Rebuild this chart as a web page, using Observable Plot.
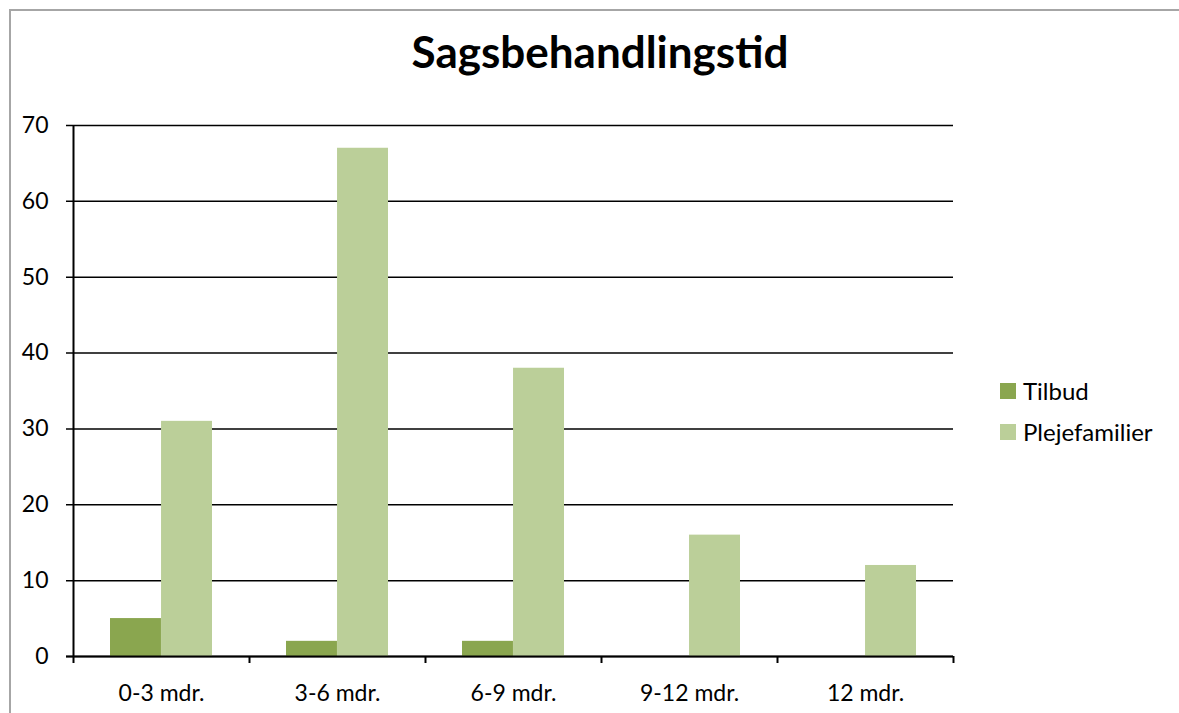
<!DOCTYPE html>
<html>
<head>
<meta charset="utf-8">
<script src="https://cdn.jsdelivr.net/npm/d3@7"></script>
<script src="https://cdn.jsdelivr.net/npm/@observablehq/plot@0.6"></script>
<style>
  html, body { margin: 0; padding: 0; background: #fff; }
  body { width: 1179px; height: 713px; position: relative; overflow: hidden; font-family: Lato, "Open Sans", sans-serif; }
  #frame { position: absolute; left: 9px; top: 9px; width: 1300px; height: 800px; border-left: 2px solid #a6a6a6; border-top: 2px solid #a6a6a6; box-sizing: border-box; }
  #title { position: absolute; left: 0; width: 1200px; top: 25px; text-align: center; font-weight: bold; font-size: 44px; color: #000; }
  #chart { position: absolute; left: 0; top: 0; }
  #legend { position: absolute; left: 1000px; top: 370px; font-size: 24px; color: #000; }
  .item { display: flex; align-items: center; height: 41px; }
  .sw { width: 16px; height: 16px; margin-right: 7px; }
</style>
</head>
<body>
<div id="frame"></div>
<div id="title">Sagsbehandlingstid</div>
<div id="chart"></div>
<div id="legend"></div>
<script>
const categories = ["0-3 mdr.", "3-6 mdr.", "6-9 mdr.", "9-12 mdr.", "12 mdr."];
const seriesNames = ["Tilbud", "Plejefamilier"];
const tilbud = [5, 2, 2, 0, 0];
const plejefamilier = [31, 67, 38, 16, 12];
const yTicks = [0, 10, 20, 30, 40, 50, 60, 70];
const colors = ["#8aa64f", "#bbcf99"];

const rowsT = categories.map((c, i) => ({cat: c, v: tilbud[i]}));
const rowsP = categories.map((c, i) => ({cat: c, v: plejefamilier[i]}));

const W = 1179, H = 713;
const mL = 73, mR = 226, mT = 125, mB = 57;
const step = (W - mL - mR) / categories.length;
const half = step * 0.58 / 2;

const plot = Plot.plot({
  width: W,
  height: H,
  marginLeft: mL,
  marginRight: mR,
  marginTop: mT,
  marginBottom: mB,
  style: {fontFamily: "Lato, 'Open Sans', sans-serif", fontSize: "23px", color: "#000", background: "transparent"},
  x: {domain: categories, paddingInner: 0.42, paddingOuter: 0.21, label: null},
  y: {domain: [0, 70], label: null},
  marks: [
    Plot.ruleY(yTicks, {y: d => d, stroke: "#000", strokeWidth: 1.5, insetLeft: -7}),
    Plot.barY(rowsT, {x: "cat", y: "v", fill: colors[0], insetRight: half}),
    Plot.barY(rowsP, {x: "cat", y: "v", fill: colors[1], insetLeft: half}),
    Plot.ruleY([0], {stroke: "#000", strokeWidth: 2, insetLeft: -7}),
    Plot.ruleX(categories, {x: d => d, y1: 0, y2: 0, dx: -step / 2, insetBottom: -7, stroke: "#000", strokeWidth: 2}),
    Plot.ruleX(categories.slice(-1), {x: d => d, y1: 0, y2: 0, dx: step / 2, insetBottom: -7, stroke: "#000", strokeWidth: 2}),
    Plot.ruleX(categories.slice(0, 1), {x: d => d, y1: 0, y2: 70, dx: -step / 2, stroke: "#000", strokeWidth: 2}),
    Plot.axisY({ticks: yTicks, tickSize: 0, tickPadding: 25, tickFormat: d => d, fontSize: 23, label: null}),
    Plot.axisX({tickSize: 0, tickPadding: 28, fontSize: 23, label: null})
  ]
});
document.getElementById("chart").appendChild(plot);

const legend = document.getElementById("legend");
seriesNames.forEach((name, i) => {
  const item = document.createElement("div");
  item.className = "item";
  const sw = document.createElement("div");
  sw.className = "sw";
  sw.style.background = colors[i];
  const t = document.createElement("span");
  t.textContent = name;
  item.appendChild(sw);
  item.appendChild(t);
  legend.appendChild(item);
});
</script>
</body>
</html>
